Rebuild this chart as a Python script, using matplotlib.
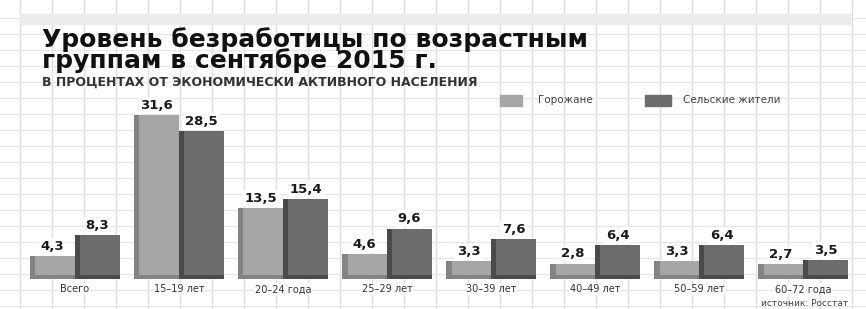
import numpy as np
import matplotlib
matplotlib.use("Agg")
import matplotlib.pyplot as plt

# data
groups = ["Всего", "15–19 лет", "20–24 года", "25–29 лет",
          "30–39 лет", "40–49 лет", "50–59 лет", "60–72 года"]
city = [4.3, 31.6, 13.5, 4.6, 3.3, 2.8, 3.3, 2.7]
rural = [8.3, 28.5, 15.4, 9.6, 7.6, 6.4, 6.4, 3.5]
series_names = ["Горожане", "Сельские жители"]

title = "Уровень безработицы по возрастным\nгруппам в сентябре 2015 г."
subtitle = "В ПРОЦЕНТАХ ОТ ЭКОНОМИЧЕСКИ АКТИВНОГО НАСЕЛЕНИЯ"
source = "источник: Росстат"

c_city, c_city_side = "#a6a6a6", "#848484"
c_rural, c_rural_side = "#6c6c6c", "#4a4a4a"

W, H = 866, 309
fig = plt.figure(figsize=(W / 100, H / 100), dpi=100)
fig.patch.set_facecolor("white")

# graph paper background
bg = fig.add_axes([0, 0, 1, 1])
bg.set_xlim(0, W)
bg.set_ylim(H, 0)
bg.axis("off")
for gx in np.arange(20, W, 32):
    bg.axvline(gx, color="#dedede", lw=1.0, zorder=0)
for gy in np.arange(18, H, 16):
    bg.axhline(gy, color="#e8e8e8", lw=0.8, zorder=0)
bg.axhspan(14, 24, xmin=20 / W, xmax=850 / W, color="#ececec", zorder=0)

ax = fig.add_axes([25 / W, 31 / H, 825 / W, 206 / H])
ax.patch.set_alpha(0)
ax.set_xlim(-0.48, 7.45)
ax.set_ylim(0, 40)
ax.axis("off")

x = np.arange(len(groups))
bw = 0.43
side = 0.05

xc = x - bw / 2
xr = x + bw / 2
ax.bar(xc, city, width=bw, color=c_city, zorder=2)
ax.bar(xr, rural, width=bw, color=c_rural, zorder=2)
# pseudo 3d sides and bottoms
ax.bar(xc - bw / 2 + side / 2, city, width=side, color=c_city_side, zorder=3)
ax.bar(xr - bw / 2 + side / 2, rural, width=side, color=c_rural_side, zorder=3)
ax.bar(xc, [0.7] * len(x), bottom=-0.2, width=bw, color=c_city_side, zorder=3, clip_on=False)
ax.bar(xr, [0.7] * len(x), bottom=-0.2, width=bw, color=c_rural_side, zorder=3, clip_on=False)

box = dict(boxstyle="square,pad=0.15", fc="white", ec="none")
for xi, v in zip(xc, city):
    ax.text(xi, v + 0.6, f"{v:.1f}".replace(".", ","), ha="center", va="bottom",
            fontsize=9.5, fontweight="bold", color="#1a1a1a", bbox=box, zorder=4)
for xi, v in zip(xr, rural):
    ax.text(xi, v + 0.6, f"{v:.1f}".replace(".", ","), ha="center", va="bottom",
            fontsize=9.5, fontweight="bold", color="#1a1a1a", bbox=box, zorder=4)

for xi, g in zip(x, groups):
    ax.text(xi, -1.2, g, ha="center", va="top", fontsize=7, color="#333333",
            bbox=dict(boxstyle="square,pad=0.1", fc="white", ec="none"))

# titles
fig.text(42 / W, 1 - 27 / H, title, ha="left", va="top", fontsize=18,
         fontweight="heavy", color="#111111", linespacing=0.82)
fig.text(42 / W, 1 - 82 / H, subtitle, ha="left", va="center", fontsize=9,
         fontweight="bold", color="#333333")

# legend
fig.patches.append(plt.Rectangle((500 / W, 1 - 106 / H), 22 / W, 11 / H,
                                 transform=fig.transFigure, color=c_city))
fig.text(538 / W, 1 - 100 / H, series_names[0], ha="left", va="center",
         fontsize=7.5, color="#444444")
fig.patches.append(plt.Rectangle((645 / W, 1 - 106 / H), 26 / W, 11 / H,
                                 transform=fig.transFigure, color=c_rural))
fig.text(683 / W, 1 - 100 / H, series_names[1], ha="left", va="center",
         fontsize=7.5, color="#444444")

fig.text(848 / W, 1 - 303 / H, source, ha="right", va="center",
         fontsize=6.5, color="#444444")

fig.savefig("out.png", dpi=100)
